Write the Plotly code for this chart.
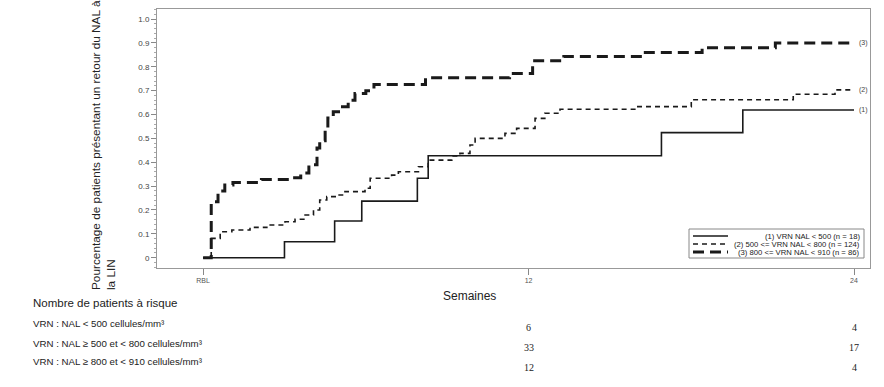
import plotly.graph_objects as go

# ---- data ----
weeks1 = [0, 3.0, 4.85, 5.85, 7.9, 8.3, 16.9, 19.9, 24]
pct1 = [0, 0.067, 0.154, 0.237, 0.333, 0.427, 0.524, 0.619, 0.619]

weeks2 = [0, 0.3, 0.63, 1.06, 1.73, 2.35, 3.02, 3.39, 3.76, 4.07, 4.3, 4.56, 4.87, 5.23, 5.97, 6.16,
          6.95, 7.2, 7.94, 8.3, 9.17, 9.47, 9.84, 10.03, 11.13, 11.56, 12.24, 12.6, 13.16, 15.98,
          18.0, 21.76, 23.3, 24]
pct2 = [0, 0.081, 0.109, 0.116, 0.127, 0.137, 0.151, 0.161, 0.179, 0.20, 0.242, 0.256, 0.263, 0.277,
        0.291, 0.333, 0.346, 0.36, 0.381, 0.409, 0.426, 0.437, 0.472, 0.50, 0.521, 0.542, 0.584,
        0.605, 0.622, 0.633, 0.662, 0.685, 0.703, 0.703]

weeks3 = [0, 0.3, 0.55, 0.8, 1.1, 2.15, 3.3, 3.6, 3.9, 4.2, 4.3, 4.5, 4.6, 4.8, 5.05, 5.35, 5.6,
          6.0, 6.3, 8.2, 11.3, 12.15, 13.3, 16.2, 18.4, 21.1, 24]
pct3 = [0, 0.235, 0.28, 0.305, 0.315, 0.328, 0.335, 0.355, 0.39, 0.46, 0.49, 0.54, 0.585, 0.612,
        0.633, 0.66, 0.688, 0.70, 0.726, 0.754, 0.772, 0.825, 0.843, 0.86, 0.88, 0.90, 0.90]

series_tags = ["(1)", "(2)", "(3)"]
legend_labels = ["(1) VRN NAL < 500 (n = 18)",
                 "(2) 500 <= VRN NAL < 800 (n = 124)",
                 "(3) 800 <= VRN NAL < 910 (n = 86)"]

x_tickvals = [0, 12, 24]
x_ticktext = ["RBL", "12", "24"]
y_tickvals = [0, 0.1, 0.2, 0.3, 0.4, 0.5, 0.6, 0.7, 0.8, 0.9, 1.0]
y_ticktext = ["0", "0.1", "0.2", "0.3", "0.4", "0.5", "0.6", "0.7", "0.8", "0.9", "1.0"]

risk_title = "Nombre de patients à risque"
risk_rows = ["VRN : NAL < 500 cellules/mm³",
             "VRN : NAL ≥ 500 et < 800 cellules/mm³",
             "VRN : NAL ≥ 800 et < 910 cellules/mm³"]
risk_weeks = [12, 24]
risk_counts = [[6, 4], [33, 17], [12, 4]]

# ---- layout geometry ----
W, H = 884, 387
L, R, T, B = 157, 14, 9, 119
PW, PH = W - L - R, H - T - B


def px(xp):
    return (xp - L) / PW


def py(yp):
    return (H - B - yp) / PH


styles = [dict(color="#1a1a1a", width=1.6, dash="solid"),
          dict(color="#1a1a1a", width=1.6, dash="5px,4px"),
          dict(color="#1a1a1a", width=3, dash="11px,6px")]

fig = go.Figure()
for wk, pc, st in zip([weeks1, weeks2, weeks3], [pct1, pct2, pct3], styles):
    fig.add_trace(go.Scatter(x=wk, y=pc, mode="lines", line=dict(shape="hv", **st),
                             showlegend=False, hoverinfo="skip"))

ann = []
# end labels
for tag, wk, pc in zip(series_tags, [weeks1, weeks2, weeks3], [pct1, pct2, pct3]):
    ann.append(dict(x=wk[-1], y=pc[-1], xref="x", yref="y", text=tag, showarrow=False,
                    xanchor="left", xshift=3, font=dict(family="Liberation Sans", size=7, color="#444")))

# y title
ann.append(dict(x=px(103), y=py(145), xref="paper", yref="paper", textangle=-90, showarrow=False,
                align="left", xanchor="center", yanchor="middle",
                text="Pourcentage de patients présentant un retour du NAL à<br>la LIN",
                font=dict(family="Liberation Sans", size=11.8, color="#222")))
# x title
ann.append(dict(x=px(469), y=py(296), xref="paper", yref="paper", text="Semaines", showarrow=False,
                xanchor="center", yanchor="middle",
                font=dict(family="Liberation Sans", size=12, color="#222")))
# at-risk table
ann.append(dict(x=px(31), y=py(303), xref="paper", yref="paper", text=risk_title, showarrow=False,
                xanchor="left", yanchor="middle",
                font=dict(family="Liberation Sans", size=11.5, color="#222")))
row_label_y = [323, 343, 361]
row_num_y = [327, 347, 367]
for lab, ly, ny, counts in zip(risk_rows, row_label_y, row_num_y, risk_counts):
    ann.append(dict(x=px(31), y=py(ly), xref="paper", yref="paper", text=lab, showarrow=False,
                    xanchor="left", yanchor="middle",
                    font=dict(family="Liberation Sans", size=9.7, color="#222")))
    for wk, c in zip(risk_weeks, counts):
        ann.append(dict(x=wk, y=py(ny), xref="x", yref="paper", text=str(c), showarrow=False,
                        xanchor="center", yanchor="middle",
                        font=dict(family="Liberation Serif", size=10, color="#222")))

# manual legend
shapes = [dict(type="rect", xref="paper", yref="paper", x0=px(689), x1=px(864), y0=py(258), y1=py(229),
               line=dict(color="#888", width=1), fillcolor="white")]
leg_y = [236, 244, 252]
for lab, ly, st in zip(legend_labels, leg_y, styles):
    shapes.append(dict(type="line", xref="paper", yref="paper", x0=px(693), x1=px(728),
                       y0=py(ly), y1=py(ly), line=dict(color=st["color"], width=st["width"],
                                                      dash=st["dash"])))
    ann.append(dict(x=px(862), y=py(ly), xref="paper", yref="paper", text=lab, showarrow=False,
                    xanchor="right", yanchor="middle",
                    font=dict(family="Liberation Sans", size=7.7, color="#222")))

fig.update_layout(
    width=W, height=H, margin=dict(l=L, r=R, t=T, b=B, pad=0),
    paper_bgcolor="white", plot_bgcolor="white",
    annotations=ann, shapes=shapes,
    xaxis=dict(range=[-1.7, 24.59], tickvals=x_tickvals, ticktext=x_ticktext, ticks="outside",
               ticklen=6, tickcolor="#888", showline=True, linecolor="#999", mirror=True,
               showgrid=False, zeroline=False,
               tickfont=dict(family="Liberation Sans", size=7, color="#555")),
    yaxis=dict(range=[-0.043, 1.042], tickvals=y_tickvals, ticktext=y_ticktext, ticks="outside",
               ticklen=5, tickcolor="#888", showline=True, linecolor="#999", mirror=True,
               showgrid=False, zeroline=False,
               minor=dict(dtick=0.02, ticks="outside", ticklen=2, tickcolor="#aaa"),
               tickfont=dict(family="Liberation Sans", size=8, color="#444")),
)

fig.write_html("out.html", config={"displayModeBar": False},
               post_script="document.body.style.margin='0';")
